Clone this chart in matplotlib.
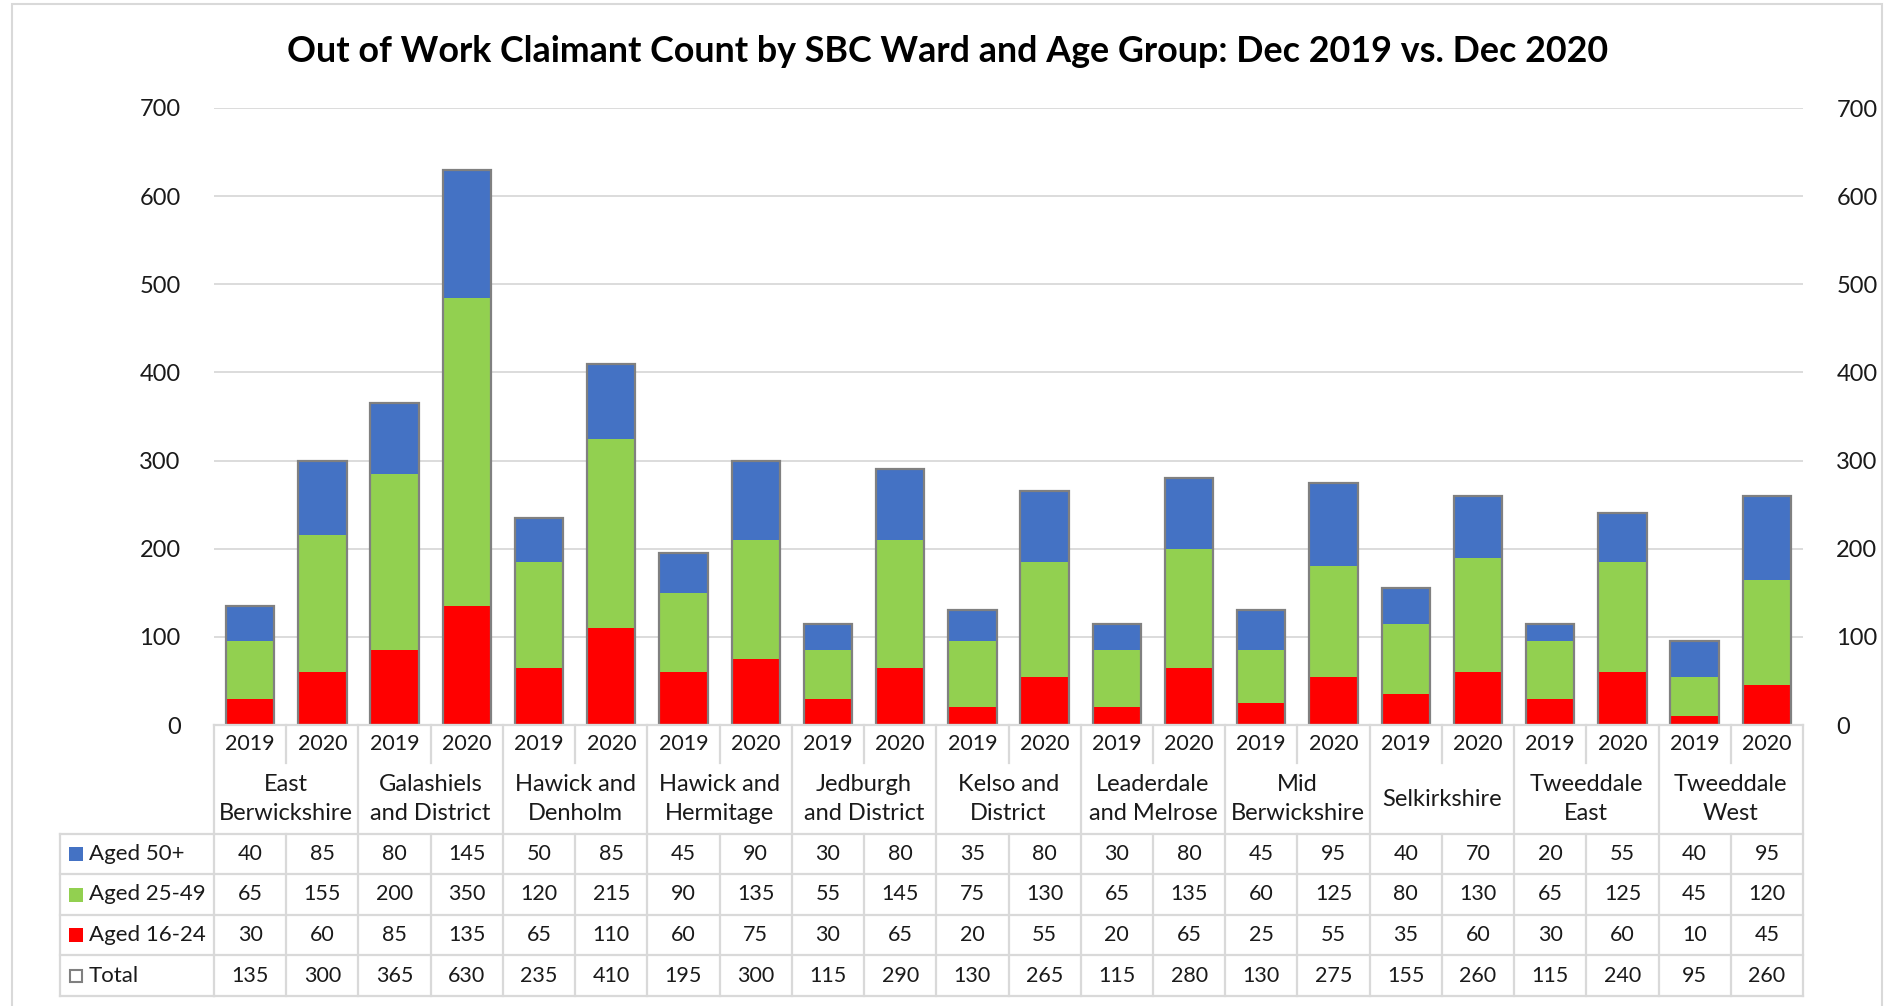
import numpy as np
import matplotlib
matplotlib.use('Agg')
import matplotlib.pyplot as plt
from matplotlib.lines import Line2D
from matplotlib.patches import Rectangle
from matplotlib.transforms import blended_transform_factory

plt.rcParams['font.family'] = ['Lato', 'DejaVu Sans']

# data
wards = ['East\nBerwickshire', 'Galashiels\nand District', 'Hawick and\nDenholm',
         'Hawick and\nHermitage', 'Jedburgh\nand District', 'Kelso and\nDistrict',
         'Leaderdale\nand Melrose', 'Mid\nBerwickshire', 'Selkirkshire',
         'Tweeddale\nEast', 'Tweeddale\nWest']
years = ['2019', '2020']
aged_50 = [40, 85, 80, 145, 50, 85, 45, 90, 30, 80, 35, 80, 30, 80, 45, 95, 40, 70, 20, 55, 40, 95]
aged_25_49 = [65, 155, 200, 350, 120, 215, 90, 135, 55, 145, 75, 130, 65, 135, 60, 125, 80, 130, 65, 125, 45, 120]
aged_16_24 = [30, 60, 85, 135, 65, 110, 60, 75, 30, 65, 20, 55, 20, 65, 25, 55, 35, 60, 30, 60, 10, 45]
total = [135, 300, 365, 630, 235, 410, 195, 300, 115, 290, 130, 265, 115, 280, 130, 275, 155, 260, 115, 240, 95, 260]

W, H = 1885, 1006
fig = plt.figure(figsize=(W / 100, H / 100), dpi=100, facecolor='white')

def fx(p):
    return p / W

def fy(p):
    return 1 - p / H

# plot area in pixels
L, R, T, B = 214, 1803, 108, 725
ax = fig.add_axes([fx(L), fy(B), fx(R - L), (B - T) / H])

x = np.arange(len(total))
bw = 0.67
c_red, c_green, c_blue = '#FF0000', '#92D050', '#4472C4'
a16 = np.array(aged_16_24)
a25 = np.array(aged_25_49)
a50 = np.array(aged_50)
ax.bar(x, a16, bw, color=c_red, zorder=2)
ax.bar(x, a25, bw, bottom=a16, color=c_green, zorder=2)
ax.bar(x, a50, bw, bottom=a16 + a25, color=c_blue, zorder=2)
ax.bar(x, total, bw, fill=False, edgecolor='#808080', linewidth=1.6, zorder=3)

ax.set_xlim(-0.5, len(total) - 0.5)
ax.set_ylim(0, 700)
ax.set_yticks(range(0, 701, 100))
ax.yaxis.grid(True, color='#D9D9D9', linewidth=1.3)
ax.set_axisbelow(True)
ax.set_xticks([])
for s in ax.spines.values():
    s.set_visible(False)
ax.tick_params(axis='y', length=0, pad=24, labelsize=17, labelcolor='#1a1a1a')

ax2 = ax.twinx()
ax2.set_ylim(0, 700)
ax2.set_yticks(range(0, 701, 100))
for s in ax2.spines.values():
    s.set_visible(False)
ax2.tick_params(axis='y', length=0, pad=24, labelsize=17, labelcolor='#1a1a1a')

fig.text(0.5025, fy(51), 'Out of Work Claimant Count by SBC Ward and Age Group: Dec 2019 vs. Dec 2020',
         ha='center', va='center', fontsize=25.8, fontweight='bold', color='black')

# data table under the plot
tr = blended_transform_factory(ax.transData, fig.transFigure)
lc = '#D9D9D9'
lw = 1.6
fs = 15.5
tc = '#1a1a1a'

def hline(x0, x1, y, t=tr):
    fig.add_artist(Line2D([x0, x1], [fy(y), fy(y)], transform=t, color=lc, lw=lw))

def vline(xv, y0, y1, t=tr):
    fig.add_artist(Line2D([xv, xv], [fy(y0), fy(y1)], transform=t, color=lc, lw=lw))

n = len(total)
y_top, y_year, y_ward = 725, 763, 834
row_edges = [834, 874, 915, 955, 996]
hline(-0.5, n - 0.5, y_top)
for yy in row_edges:
    hline(-0.5, n - 0.5, yy)
    fig.add_artist(Line2D([fx(60), fx(L)], [fy(yy), fy(yy)], transform=fig.transFigure, color=lc, lw=lw))
fig.add_artist(Line2D([fx(60), fx(60)], [fy(834), fy(996)], transform=fig.transFigure, color=lc, lw=lw))
for i in range(n + 1):
    xe = i - 0.5
    if i % 2 == 0:
        vline(xe, y_top, 996)
    else:
        vline(xe, y_top, y_year)
        vline(xe, y_ward, 996)

for i in range(n):
    fig.text(i, fy(744), years[i % 2], transform=tr, ha='center', va='center', fontsize=fs, color=tc)
for j, w in enumerate(wards):
    fig.text(2 * j + 0.5, fy(799), w, transform=tr, ha='center', va='center',
             fontsize=17, color=tc, linespacing=1.45)

rows = [('Aged 50+', aged_50, c_blue, True),
        ('Aged 25-49', aged_25_49, c_green, True),
        ('Aged 16-24', aged_16_24, c_red, True),
        ('Total', total, 'white', False)]
for r, (name, vals, col, filled) in enumerate(rows):
    yc = (row_edges[r] + row_edges[r + 1]) / 2
    if filled:
        fig.add_artist(Rectangle((fx(69), fy(yc + 7)), fx(14), 14 / H, transform=fig.transFigure,
                                 facecolor=col, edgecolor='none'))
    else:
        fig.add_artist(Rectangle((fx(70), fy(yc + 6)), fx(12), 12 / H, transform=fig.transFigure,
                                 facecolor='white', edgecolor='#808080', lw=1.5))
    fig.text(fx(89), fy(yc), name, ha='left', va='center', fontsize=16, color=tc)
    for i, v in enumerate(vals):
        fig.text(i, fy(yc), str(v), transform=tr, ha='center', va='center', fontsize=fs, color=tc)

# outer chart border
fig.add_artist(Rectangle((fx(12), fy(1010)), fx(1870), 1006 / H, transform=fig.transFigure,
                         fill=False, edgecolor='#D9D9D9', lw=1.5))

fig.savefig('out.png', dpi=100, facecolor='white')
